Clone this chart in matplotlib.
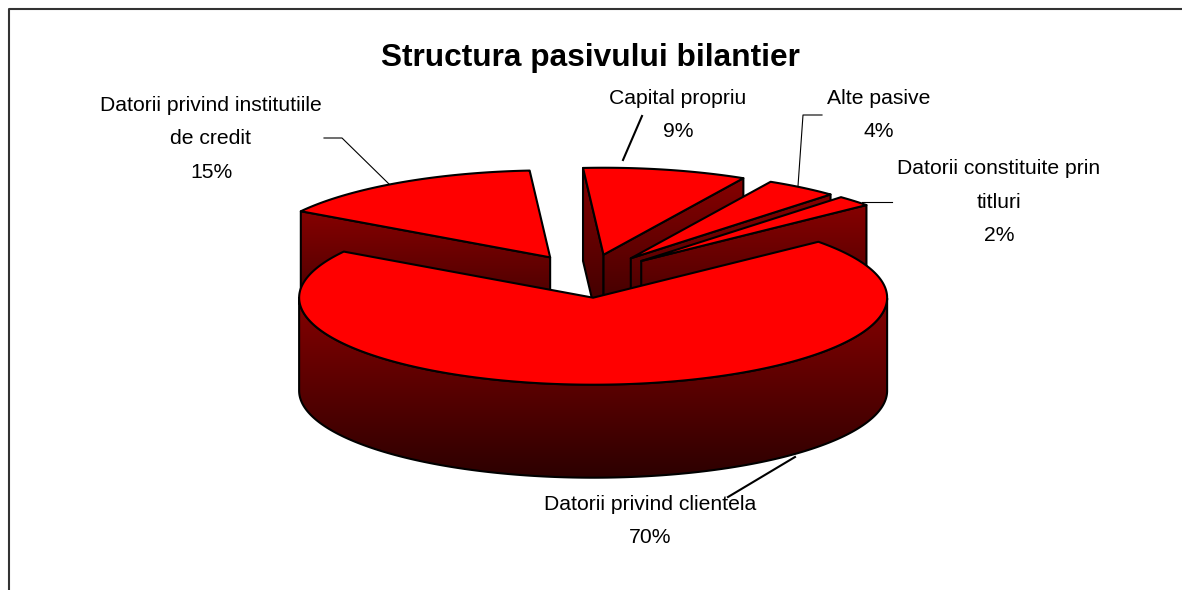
import numpy as np
import matplotlib
matplotlib.use('Agg')
import matplotlib.pyplot as plt
from matplotlib.colors import LinearSegmentedColormap
from matplotlib.patches import Polygon

# date
labels = ['Capital propriu', 'Alte pasive', 'Datorii constituite prin\ntitluri',
          'Datorii privind clientela', 'Datorii privind institutiile\nde credit']
values = [9, 4, 2, 70, 15]
title = 'Structura pasivului bilantier'

# geometria desenului, in pixeli
cx, cy = 588, 276
rx, ry = 294, 87
depth = 93
explode = 0.25
start_angle = 94

plt.rcParams['font.family'] = ['Liberation Sans', 'DejaVu Sans']

fig = plt.figure(figsize=(11.82, 5.9), dpi=100)
ax = fig.add_axes([0, 0, 1, 1])
wall_cmap = LinearSegmentedColormap.from_list('wall', ['#860000', '#2c0000'])
grad = np.linspace(0, 1, 256).reshape(-1, 1)


def ell(x0, y0, ang):
    ang = np.radians(ang)
    return x0 + rx * np.cos(ang), y0 - ry * np.sin(ang)


def wall(pts, z):
    # perete cu degrade, taiat dupa poligon
    pts = np.array(pts)
    poly = Polygon(pts, closed=True, fc='none', ec='black', lw=1.5, zorder=z + 0.5, joinstyle='round')
    ax.add_patch(poly)
    im = ax.imshow(grad, cmap=wall_cmap, aspect='auto', zorder=z,
                   extent=(pts[:, 0].min(), pts[:, 0].max(), pts[:, 1].max(), pts[:, 1].min()))
    im.set_clip_path(poly)


def draw_slice(a1, a2, z):
    # a1 > a2, sensul acelor de ceasornic
    mid = np.radians((a1 + a2) / 2)
    x0 = cx + explode * rx * np.cos(mid)
    y0 = cy - explode * ry * np.sin(mid)
    apex = (x0, y0)
    for edge, normal in ((a1, a1 + 90), (a2, a2 - 90)):
        if np.sin(np.radians(normal)) < 0:
            p = ell(x0, y0, edge)
            wall([apex, p, (p[0], p[1] + depth), (x0, y0 + depth)], z)
            z += 1
    # arcul din fata
    t = np.linspace(a1, a2, 300)
    t = t[np.sin(np.radians(t)) <= 0]
    if len(t) > 1:
        xs, ys = ell(x0, y0, t)
        top = np.column_stack([xs, ys])
        bottom = np.column_stack([xs, ys + depth])[::-1]
        wall(np.vstack([top, bottom]), z)
        z += 1
    t = np.linspace(a1, a2, 300)
    xs, ys = ell(x0, y0, t)
    pts = np.vstack([[apex], np.column_stack([xs, ys])])
    ax.add_patch(Polygon(pts, closed=True, fc='#ff0000', ec='black', lw=1.5, zorder=z, joinstyle='round'))
    return z + 1


# unghiurile din valori
total = sum(values)
angles = [start_angle]
for v in values:
    angles.append(angles[-1] - v / total * 360)

# ordinea de desenare: de la spate la fata
z = 2
for i in [4, 0, 1, 2, 3]:
    z = draw_slice(angles[i], angles[i + 1], z)

# etichete
label_pos = [(678, 115), (879, 115), (999, 202), (650, 521), (211, 139)]
for name, v, (x, y) in zip(labels, values, label_pos):
    ax.text(x, y, f'{name}\n{v}%', ha='center', va='center', fontsize=15.2, linespacing=1.95, color='black', zorder=30)

ax.text(590, 58, title, ha='center', va='center', fontsize=22.8, fontweight='bold', zorder=50)

# linii de legatura
leaders = [
    ([642, 623], [116, 160], 1.5),
    ([822, 803, 798], [115, 115, 186], 0.8),
    ([892, 862], [202, 202], 0.8),
    ([795, 728], [457, 497], 1.5),
    ([324, 342, 389], [138, 138, 184], 0.8),
]
for lx, ly, w in leaders:
    ax.plot(lx, ly, color='black', lw=w, zorder=40)

# chenar
ax.plot([9, 9, 1182], [590, 9, 9], color='#333333', lw=1.5, zorder=60)

ax.set_xlim(0, 1182)
ax.set_ylim(590, 0)
ax.axis('off')
fig.savefig('out.png', dpi=100, facecolor='white')
